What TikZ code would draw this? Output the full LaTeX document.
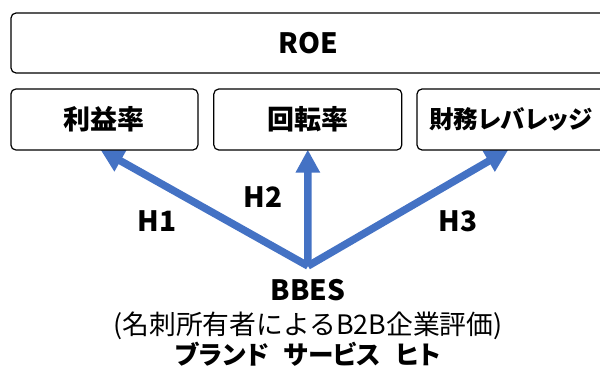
\documentclass[tikz,border=0pt]{standalone}
\usepackage{fontspec}
\setmainfont{Noto Sans CJK JP}
\newfontfamily\kanap{Noto Sans CJK JP}[RawFeature=+palt]
\usetikzlibrary{arrows.meta,backgrounds}
\definecolor{arrowblue}{HTML}{4472C4}
\begin{document}
\begin{tikzpicture}[x=1pt,y=-1pt,
  box/.style={draw=black, line width=1.2pt, rounded corners=5pt, fill=white, inner sep=0pt, minimum height=60pt},
  arr/.style={draw=arrowblue, line width=7.5pt, -{Triangle[width=23pt,length=23pt]}},
  latin/.style={font=\fontsize{28}{32}\selectfont\bfseries, inner sep=0pt},
  cjk/.style={font=\fontsize{27}{32}\selectfont\bfseries, inner sep=0pt},
  lbl/.style={font=\fontsize{28}{32}\selectfont\bfseries, inner sep=0pt},
  txt/.style={inner sep=0pt, align=center}
]
\useasboundingbox (0,0) rectangle (600,367);
\clip (0,0) rectangle (600,367);
\node[box, minimum width=594pt, latin] (roe) at (308,43) {ROE};
\node[box, minimum width=187pt, minimum height=61pt, cjk] (b1) at (104.4,119.5) {利益率};
\node[box, minimum width=188pt, minimum height=61pt, cjk] (b2) at (307.8,119.5) {回転率};
\node[box, minimum width=188pt, minimum height=61pt, font=\fontsize{24.5}{30}\selectfont\bfseries\kanap] (b3) at (511,119.5) {財務レバレッジ};
\coordinate (v) at (308,266);
\begin{scope}[on background layer]
\draw[arr] (v) -- ([xshift=-4pt,yshift=1pt]b1.south);
\draw[arr] (v) -- ([yshift=1pt]b2.south);
\draw[arr] (v) -- ([xshift=-2.5pt,yshift=1pt]b3.south);
\end{scope}
\node[lbl] (h1) at (157,221) {H1};
\node[lbl] (h2) at (263,197) {H2};
\node[lbl] (h3) at (458,221) {H3};
\node[txt, latin] (bbes) at (308,290) {BBES};
\node[txt, font=\fontsize{26.8}{30}\selectfont] (sub) at (308,326) {(名刺所有者によるB2B企業評価)};
\node[txt, font=\fontsize{25.6}{30}\selectfont\bfseries\kanap] (kw) at (308,354) {ブランド\hspace{0.6em}サービス\hspace{0.6em}ヒト};
\end{tikzpicture}
\end{document}
